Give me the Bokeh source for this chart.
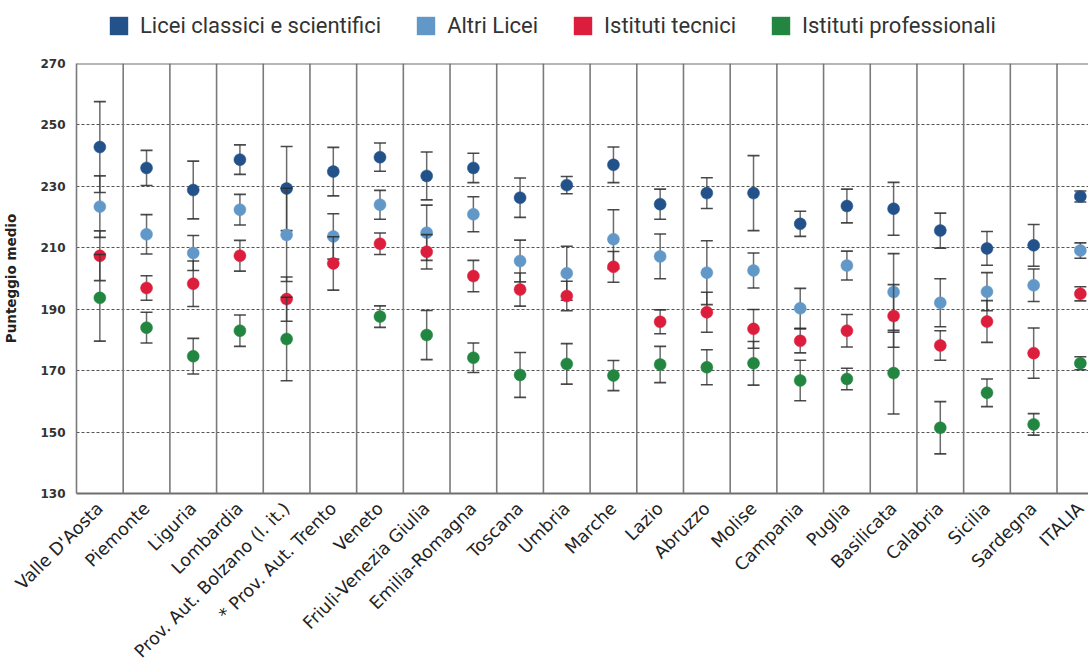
import math

import numpy as np
from bokeh.embed import file_html
from bokeh.layouts import column
from bokeh.models import ColumnDataSource, FixedTicker, Legend, LegendItem, Span
from bokeh.plotting import figure
from bokeh.resources import INLINE

# Average score by region and type of school, with error bars
regions = [
    "Valle D'Aosta", "Piemonte", "Liguria", "Lombardia",
    "Prov. Aut. Bolzano (l. it.)", "* Prov. Aut. Trento", "Veneto",
    "Friuli-Venezia Giulia", "Emilia-Romagna", "Toscana", "Umbria", "Marche",
    "Lazio", "Abruzzo", "Molise", "Campania", "Puglia", "Basilicata",
    "Calabria", "Sicilia", "Sardegna", "ITALIA",
]

licei_cs = [242.8, 236.0, 228.8, 238.7, 229.3, 234.8, 239.5, 233.4, 236.0, 226.3, 230.4,
            237.0, 224.2, 227.8, 227.8, 217.8, 223.6, 222.7, 215.6, 209.8, 210.8, 226.7]
licei_cs_err = [14.8, 5.7, 9.4, 4.8, 13.7, 7.9, 4.6, 7.8, 4.8, 6.4, 2.8,
                5.8, 4.9, 5.0, 12.2, 4.1, 5.5, 8.6, 5.7, 5.5, 6.8, 1.8]

altri_licei = [223.4, 214.4, 208.3, 222.4, 214.2, 213.7, 224.0, 214.9, 220.9, 205.7, 201.7,
               212.8, 207.2, 201.9, 202.6, 190.3, 204.2, 195.6, 192.1, 195.7, 197.8, 209.1]
altri_licei_err = [10.0, 6.4, 5.7, 5.0, 15.2, 7.4, 4.7, 9.0, 5.7, 6.8, 8.8,
                   9.6, 7.3, 10.4, 5.7, 6.5, 4.7, 12.5, 7.8, 6.2, 5.3, 2.5]

ist_tecnici = [207.4, 196.9, 198.3, 207.4, 193.3, 204.9, 211.3, 208.7, 200.8, 196.4, 194.3,
               203.8, 185.9, 189.0, 183.6, 179.7, 183.0, 187.8, 178.2, 186.0, 175.7, 195.0]
ist_tecnici_err = [8.1, 4.0, 7.4, 5.0, 7.2, 8.7, 3.5, 5.6, 5.1, 5.4, 4.8,
                   5.0, 3.9, 6.5, 6.3, 3.9, 5.3, 10.2, 4.8, 6.8, 8.2, 2.3]

# no data for professional institutes in Trento
ist_prof = [193.7, 184.0, 174.7, 183.0, 180.3, np.nan, 187.6, 181.6, 174.2, 168.6, 172.2,
            168.4, 172.0, 171.1, 172.4, 166.8, 167.3, 169.2, 151.4, 162.8, 152.5, 172.4]
ist_prof_err = [14.1, 5.0, 5.8, 5.1, 13.6, np.nan, 3.5, 8.0, 4.8, 7.3, 6.6,
                4.9, 5.9, 5.7, 7.1, 6.6, 3.5, 13.3, 8.5, 4.5, 3.5, 2.1]

y_ticks = [130, 150, 170, 190, 210, 230, 250, 270]

series = [
    ("Licei classici e scientifici", licei_cs, licei_cs_err, "#23528a"),
    ("Altri Licei", altri_licei, altri_licei_err, "#6298c8"),
    ("Istituti tecnici", ist_tecnici, ist_tecnici_err, "#dc1e3c"),
    ("Istituti professionali", ist_prof, ist_prof_err, "#228640"),
]

xs = list(range(len(regions)))

# --- legend strip on top (its own small canvas, no axes) ---
leg_fig = figure(width=1088, height=55, x_range=(0, 1), y_range=(0, 1),
                 x_axis_location=None, y_axis_location=None,
                 output_backend="svg", toolbar_location=None, min_border=0,
                 border_fill_color="white", background_fill_color="white")
leg_fig.grid.visible = False
leg_fig.outline_line_color = None

# --- main chart ---
p = figure(
    frame_width=1016, frame_height=430,
    x_range=(-0.5, len(regions) - 0.74), y_range=(y_ticks[0], y_ticks[-1]),
    output_backend="svg", toolbar_location=None,
    min_border_left=72, min_border_top=8, min_border_right=0, min_border_bottom=0,
    background_fill_color="white", border_fill_color="white",
)
p.outline_line_color = None

p.xaxis.ticker = FixedTicker(ticks=xs)
p.xaxis.major_label_overrides = {i: name for i, name in enumerate(regions)}
p.xaxis.major_label_orientation = math.pi / 4
p.xaxis.major_label_text_font = "DejaVu Sans"
p.xaxis.major_label_text_font_size = "17.5px"
p.xaxis.major_label_text_color = "#222222"
p.xaxis.major_label_standoff = 6
p.xaxis.major_tick_line_color = None
p.xaxis.minor_tick_line_color = None
p.xaxis.axis_line_color = "#6e6e6e"
p.xaxis.axis_line_width = 2

p.yaxis.ticker = FixedTicker(ticks=y_ticks)
p.yaxis.major_label_text_font = "DejaVu Sans"
p.yaxis.major_label_text_font_style = "bold"
p.yaxis.major_label_text_font_size = "12px"
p.yaxis.major_label_text_color = "#333333"
p.yaxis.major_label_standoff = 5
p.yaxis.major_tick_line_color = None
p.yaxis.minor_tick_line_color = None
p.yaxis.axis_line_color = "#7a7a7a"
p.yaxis.axis_line_width = 1.6
p.yaxis.axis_label = "Punteggio medio"
p.yaxis.axis_label_text_font = "DejaVu Sans"
p.yaxis.axis_label_text_font_style = "bold"
p.yaxis.axis_label_text_font_size = "13.5px"
p.yaxis.axis_label_text_color = "#222222"
p.yaxis.axis_label_standoff = 18

p.xgrid.grid_line_color = None
p.ygrid.grid_line_color = "#555555"
p.ygrid.grid_line_width = 1
p.ygrid.grid_line_dash = "3 2"

# region separators and top rule
for i in xs[:-1]:
    p.add_layout(Span(location=i + 0.5, dimension="height",
                      line_color="#7a7a7a", line_width=1.6))
p.add_layout(Span(location=y_ticks[-1], dimension="width",
                  line_color="#6e6e6e", line_width=2))

legend_items = []
for name, vals, errs, color in series:
    v = np.array(vals, dtype=float)
    e = np.array(errs, dtype=float)
    src = ColumnDataSource(dict(x=xs, y=v, lo=v - e, hi=v + e))
    p.segment(x0="x", y0="lo", x1="x", y1="hi", source=src,
              line_color="#3a3a3a", line_alpha=0.75, line_width=1.5)
    p.scatter(x="x", y="hi", source=src, marker="dash", size=12,
              line_color="#2a2a2a", line_alpha=0.85, line_width=1.6)
    p.scatter(x="x", y="lo", source=src, marker="dash", size=12,
              line_color="#2a2a2a", line_alpha=0.85, line_width=1.6)
    p.scatter(x="x", y="y", source=src, marker="circle", size=12,
              fill_color=color, line_color=color, line_alpha=0.5)
    # legend swatch: the same series on the legend strip, whose y range keeps it out of view
    swatch = leg_fig.quad(left="x", right="x", top="hi", bottom="lo", source=src,
                          fill_color=color, line_color=None)
    legend_items.append(LegendItem(label=name, renderers=[swatch], index=0))

legend = Legend(
    items=legend_items, orientation="horizontal", location=(31, 17),
    glyph_width=23, glyph_height=23, label_standoff=10, spacing=33,
    padding=0, margin=0, border_line_color=None, background_fill_alpha=0,
    label_text_font="Roboto", label_text_font_size="22px",
    label_text_color="#333333",
)
leg_fig.add_layout(legend, "center")

layout = column(leg_fig, p, spacing=0)
open("out.html", "w").write(file_html(layout, INLINE))
